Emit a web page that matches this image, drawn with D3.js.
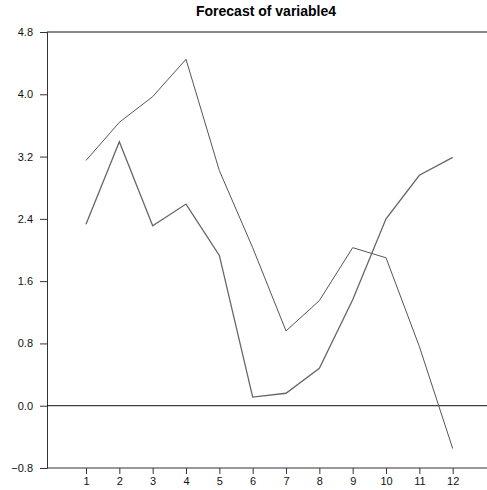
<!DOCTYPE html>
<html>
<head>
<meta charset="utf-8">
<script src="https://cdn.jsdelivr.net/npm/d3@7"></script>
<style>
  html, body { margin: 0; padding: 0; background: #fff; }
  svg { display: block; font-family: "Liberation Sans", Arial, sans-serif; }
</style>
</head>
<body>
<svg id="chart" width="487" height="490"></svg>
<script>
// Forecast horizons and the two forecast paths
const steps = [1, 2, 3, 4, 5, 6, 7, 8, 9, 10, 11, 12];
const seriesA = [3.15, 3.64, 3.97, 4.45, 3.02, 2.03, 0.96, 1.35, 2.03, 1.90, 0.76, -0.55];
const seriesB = [2.33, 3.39, 2.31, 2.59, 1.93, 0.11, 0.16, 0.48, 1.36, 2.40, 2.96, 3.19];
const yTicks = [-0.8, 0.0, 0.8, 1.6, 2.4, 3.2, 4.0, 4.8];
const title = "Forecast of variable4";

const svg = d3.select("#chart");
const plotLeft = 47, plotRight = 487, plotTop = 32, plotBottom = 468;

const x = d3.scaleLinear().domain([1, 12]).range([86, 452.7]);
const y = d3.scaleLinear().domain([-0.8, 4.8]).range([plotBottom, plotTop]);

// title
svg.append("text")
  .attr("x", 266).attr("y", 16)
  .attr("text-anchor", "middle")
  .attr("font-size", 14).attr("font-weight", "bold")
  .text(title);

// left axis
const yAxis = d3.axisLeft(y).tickValues(yTicks).tickFormat(d3.format(".1f")).tickSize(7).tickPadding(7);
const gy = svg.append("g").attr("transform", `translate(${plotLeft},0)`).call(yAxis);
gy.select(".domain").attr("stroke", "#333").attr("stroke-width", 1);
gy.selectAll(".tick line").attr("stroke", "#333");
gy.selectAll(".tick text").attr("font-size", 11).attr("fill", "#111")
  .attr("font-family", "Liberation Sans, Arial, sans-serif");

// bottom axis
const xAxis = d3.axisBottom(x).tickValues(steps).tickFormat(d3.format("d")).tickSize(6).tickPadding(3);
const gx = svg.append("g").attr("transform", `translate(0,${plotBottom})`).call(xAxis);
gx.select(".domain").remove();
gx.selectAll(".tick line").attr("stroke", "#333");
gx.selectAll(".tick text").attr("font-size", 11).attr("fill", "#111")
  .attr("font-family", "Liberation Sans, Arial, sans-serif");
svg.append("line").attr("x1", plotLeft).attr("x2", plotRight).attr("y1", plotBottom).attr("y2", plotBottom)
  .attr("stroke", "#333");

// top frame line and zero line
svg.append("line").attr("x1", plotLeft).attr("x2", plotRight).attr("y1", plotTop).attr("y2", plotTop)
  .attr("stroke", "#111");
svg.append("line").attr("x1", plotLeft).attr("x2", plotRight).attr("y1", y(0)).attr("y2", y(0))
  .attr("stroke", "#111");

const line = d3.line().x((d, i) => x(steps[i])).y(d => y(d));

svg.append("path").datum(seriesA).attr("d", line)
  .attr("fill", "none").attr("stroke", "#555").attr("stroke-width", 1);
svg.append("path").datum(seriesB).attr("d", line)
  .attr("fill", "none").attr("stroke", "#666").attr("stroke-width", 1.3);
</script>
</body>
</html>
